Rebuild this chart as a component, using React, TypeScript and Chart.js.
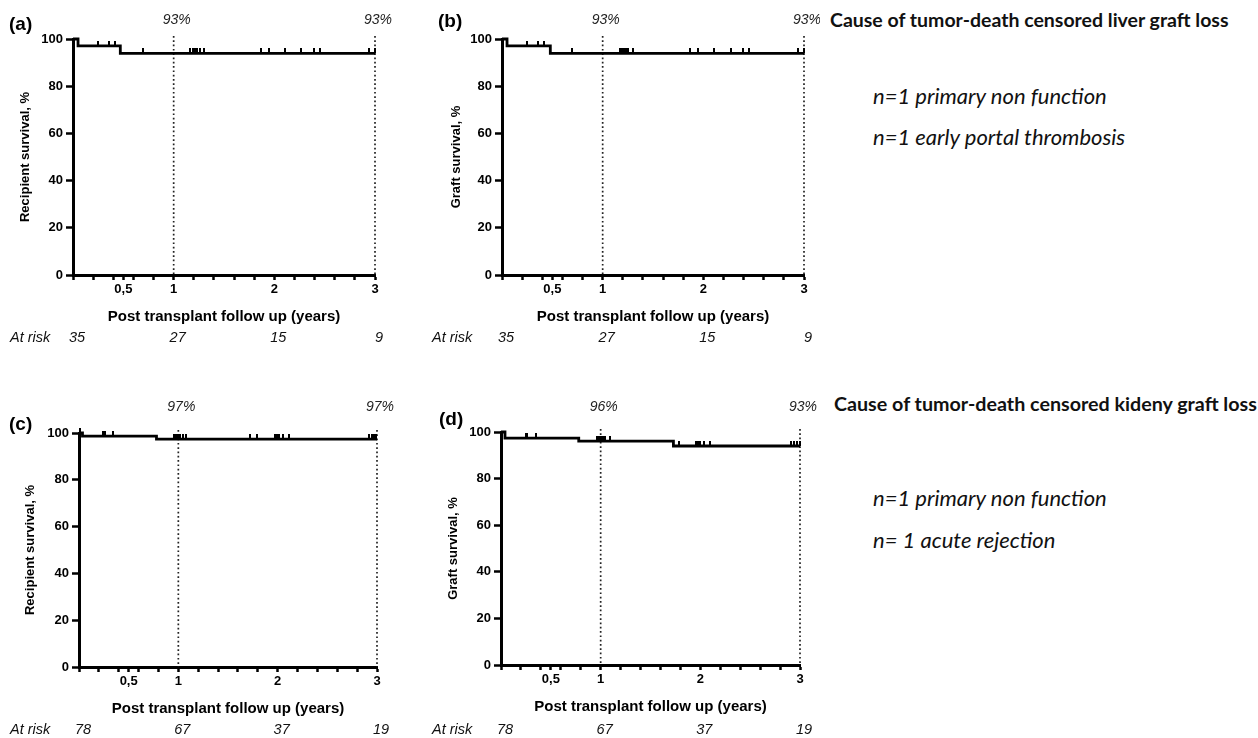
import React, { useEffect, useRef } from 'react';
import { Chart, registerables } from 'chart.js';

Chart.register(...registerables);

// ---------- data ----------
const X_TICKS = [0, 0.2, 0.4, 0.5, 0.6, 0.8, 1, 1.2, 1.4, 1.6, 1.8, 2, 2.2, 2.4, 2.6, 2.8, 3];
const X_TICK_LABELS: Record<string, string> = { '0.5': '0,5', '1': '1', '2': '2', '3': '3' };
const Y_TICKS = [0, 20, 40, 60, 80, 100];
const MARK_TIMES = [1, 3];
const AT_RISK_TIMES = [0, 1, 2, 3];

// (a) liver recipient survival
const liverRecipTimes = [0, 0.05, 0.47, 3];
const liverRecipSurv = [100, 97.1, 93.9, 93.9];
const liverRecipCensor = [0.25, 0.36, 0.42, 0.7, 1.16, 1.19, 1.21, 1.23, 1.26, 1.3, 1.87, 1.95, 2.11, 2.26, 2.39, 2.45, 2.94, 3.0];
const liverRecipPct = ['93%', '93%'];
const liverRecipAtRisk = [35, 27, 15, 9];

// (b) liver graft survival
const liverGraftTimes = [0, 0.05, 0.48, 3];
const liverGraftSurv = [100, 97.1, 93.9, 93.9];
const liverGraftCensor = [0.25, 0.36, 0.42, 0.7, 1.17, 1.19, 1.21, 1.23, 1.25, 1.3, 1.87, 1.95, 2.11, 2.27, 2.39, 2.45, 2.94, 3.0];
const liverGraftPct = ['93%', '93%'];
const liverGraftAtRisk = [35, 27, 15, 9];

// (c) kidney recipient survival
const kidneyRecipTimes = [0, 0.035, 0.78, 3];
const kidneyRecipSurv = [100, 98.7, 97.4, 97.4];
const kidneyRecipCensor = [0.01, 0.24, 0.26, 0.34, 0.96, 0.98, 1.0, 1.02, 1.05, 1.08, 1.72, 1.79, 1.97, 1.99, 2.01, 2.05, 2.11, 2.92, 2.95, 2.97, 2.99];
const kidneyRecipPct = ['97%', '97%'];
const kidneyRecipAtRisk = [78, 67, 37, 19];

// (d) kidney graft survival
const kidneyGraftTimes = [0, 0.04, 0.78, 1.73, 3];
const kidneyGraftSurv = [100, 97.4, 96.1, 94.0, 94.0];
const kidneyGraftCensor = [0.25, 0.26, 0.35, 0.96, 0.98, 1.0, 1.02, 1.04, 1.09, 1.79, 1.96, 1.98, 2.0, 2.04, 2.1, 2.91, 2.94, 2.97, 3.0];
const kidneyGraftPct = ['96%', '93%'];
const kidneyGraftAtRisk = [78, 67, 37, 19];

const FONT = '"Liberation Sans", Arial, Helvetica, sans-serif';
const SIDE_FONT = 'Lato, "Open Sans", sans-serif';

function survAt(times: number[], surv: number[], t: number) {
  let s = surv[0];
  for (let i = 0; i < times.length; i++) {
    if (times[i] <= t) s = surv[i];
  }
  return s;
}

function makeTickImage() {
  const c = document.createElement('canvas');
  c.width = 2;
  c.height = 10;
  const g = c.getContext('2d')!;
  g.fillStyle = '#000';
  g.fillRect(0, 0, 2, 5);
  return c;
}

const kmAnnot = {
  id: 'kmAnnot',
  beforeDatasetsDraw(chart: any) {
    const ctx = chart.ctx;
    const xs = chart.scales.x;
    const area = chart.chartArea;
    ctx.save();
    ctx.strokeStyle = '#222';
    ctx.lineWidth = 1.7;
    ctx.setLineDash([1.7, 2.6]);
    for (const t of MARK_TIMES) {
      const px = xs.getPixelForValue(t);
      ctx.beginPath();
      ctx.moveTo(px, area.top - 3);
      ctx.lineTo(px, area.bottom);
      ctx.stroke();
    }
    ctx.restore();
  },
  afterDraw(chart: any, _args: any, opts: any) {
    const ctx = chart.ctx;
    const xs = chart.scales.x;
    ctx.save();
    ctx.fillStyle = '#000';
    ctx.textBaseline = 'middle';
    ctx.textAlign = 'left';
    ctx.font = `bold 19px ${FONT}`;
    ctx.fillText(opts.label, opts.labelX, opts.labelY);

    ctx.font = `italic 14px ${FONT}`;
    ctx.fillStyle = '#222';
    ctx.textAlign = 'center';
    MARK_TIMES.forEach((t, i) => {
      ctx.fillText(opts.pct[i], xs.getPixelForValue(t) + 3, opts.pctY);
    });

    ctx.fillStyle = '#111';
    ctx.font = `italic 14.5px ${FONT}`;
    ctx.textAlign = 'left';
    ctx.fillText('At risk', opts.atRiskX, opts.atRiskY);
    ctx.textAlign = 'center';
    AT_RISK_TIMES.forEach((t, i) => {
      ctx.fillText(String(opts.atRisk[i]), xs.getPixelForValue(t) + 4, opts.atRiskY);
    });
    ctx.restore();
  },
};

type PanelProps = {
  left: number;
  top: number;
  width: number;
  height: number;
  area: { l: number; t: number; r: number; b: number };
  yTitle: string;
  yTitlePad: number;
  label: string;
  labelX: number;
  labelY: number;
  pctY: number;
  pct: string[];
  times: number[];
  surv: number[];
  censor: number[];
  atRisk: number[];
  atRiskX: number;
  atRiskY: number;
};

const XH = 51;

function Panel(p: PanelProps) {
  const ref = useRef<HTMLCanvasElement | null>(null);
  useEffect(() => {
    if (!ref.current) return;
    const tickImg = makeTickImage();
    const chart = new Chart(ref.current, {
      type: 'line',
      data: {
        datasets: [
          {
            type: 'line',
            data: p.times.map((t, i) => ({ x: t, y: p.surv[i] })),
            stepped: 'before',
            borderColor: '#000',
            borderWidth: 2.8,
            pointRadius: 0,
            fill: false,
            clip: false,
          } as any,
          {
            type: 'scatter',
            data: p.censor.map((t) => ({ x: t, y: survAt(p.times, p.surv, t) })),
            pointStyle: tickImg,
            pointRadius: 5,
            showLine: false,
            clip: false,
          } as any,
        ],
      },
      options: {
        animation: false,
        responsive: false,
        maintainAspectRatio: false,
        events: [],
        layout: {
          padding: {
            left: 0,
            top: p.area.t - p.top,
            right: p.left + p.width - p.area.r,
            bottom: p.top + p.height - p.area.b - XH,
          },
        },
        plugins: {
          legend: { display: false },
          tooltip: { enabled: false },
          kmAnnot: {
            label: p.label,
            labelX: p.labelX,
            labelY: p.labelY,
            pct: p.pct,
            pctY: p.pctY,
            atRisk: p.atRisk,
            atRiskX: p.atRiskX,
            atRiskY: p.atRiskY,
          },
        } as any,
        scales: {
          x: {
            type: 'linear',
            min: 0,
            max: 3,
            afterBuildTicks: (s: any) => {
              s.ticks = X_TICKS.map((v) => ({ value: v }));
            },
            afterFit: (s: any) => {
              s.height = XH;
            },
            ticks: {
              autoSkip: false,
              maxRotation: 0,
              padding: 2,
              color: '#000',
              font: { family: FONT, weight: 'bold', size: 13 },
              callback: (v: any) => X_TICK_LABELS[String(v)] ?? '',
            },
            grid: {
              display: true,
              drawOnChartArea: false,
              drawTicks: true,
              tickLength: 5,
              tickWidth: 2.5,
              tickColor: '#000',
            },
            border: { display: true, color: '#000', width: 3 },
            title: {
              display: true,
              text: 'Post transplant follow up (years)',
              color: '#000',
              font: { family: FONT, weight: 'bold', size: 15 },
              padding: { top: 0, bottom: 0 },
            },
          },
          y: {
            type: 'linear',
            min: 0,
            max: 100,
            afterBuildTicks: (s: any) => {
              s.ticks = Y_TICKS.map((v) => ({ value: v }));
            },
            afterFit: (s: any) => {
              s.width = p.area.l - p.left;
            },
            ticks: {
              padding: 3,
              color: '#000',
              font: { family: FONT, weight: 'bold', size: 13 },
            },
            grid: {
              display: true,
              drawOnChartArea: false,
              drawTicks: true,
              tickLength: 7,
              tickWidth: 2.5,
              tickColor: '#000',
            },
            border: { display: true, color: '#000', width: 3 },
            title: {
              display: true,
              text: p.yTitle,
              color: '#000',
              font: { family: FONT, weight: 'bold', size: 13 },
              padding: { top: p.yTitlePad, bottom: 0 },
            },
          },
        },
      } as any,
      plugins: [kmAnnot as any],
    });
    return () => chart.destroy();
  }, []);
  return (
    <canvas
      ref={ref}
      width={p.width}
      height={p.height}
      style={{ position: 'absolute', left: p.left, top: p.top, width: p.width, height: p.height }}
    />
  );
}

function SideText(props: { left: number; cy: number; text: string; bold?: boolean; italic?: boolean; size: number }) {
  return (
    <div
      style={{
        position: 'absolute',
        left: props.left,
        top: props.cy - 14,
        height: 28,
        lineHeight: '28px',
        fontFamily: SIDE_FONT,
        fontSize: props.size,
        fontWeight: props.bold ? 700 : 400,
        fontStyle: props.italic ? 'italic' : 'normal',
        color: '#111',
        whiteSpace: 'nowrap',
      }}
    >
      {props.text}
    </div>
  );
}

export default function App() {
  return (
    <div
      style={{
        position: 'fixed',
        left: 0,
        top: 0,
        width: 1258,
        height: 738,
        overflow: 'hidden',
        background: '#fff',
      }}
    >
      <Panel
        left={0}
        top={0}
        width={410}
        height={350}
        area={{ l: 73, t: 39, r: 375, b: 275 }}
        yTitle="Recipient survival, %"
        yTitlePad={18}
        label="(a)"
        labelX={9}
        labelY={25}
        pctY={20}
        pct={liverRecipPct}
        times={liverRecipTimes}
        surv={liverRecipSurv}
        censor={liverRecipCensor}
        atRisk={liverRecipAtRisk}
        atRiskX={10}
        atRiskY={338}
      />
      <Panel
        left={420}
        top={0}
        width={400}
        height={350}
        area={{ l: 502, t: 39, r: 804, b: 275 }}
        yTitle="Graft survival, %"
        yTitlePad={29}
        label="(b)"
        labelX={18}
        labelY={22}
        pctY={20}
        pct={liverGraftPct}
        times={liverGraftTimes}
        surv={liverGraftSurv}
        censor={liverGraftCensor}
        atRisk={liverGraftAtRisk}
        atRiskX={12}
        atRiskY={338}
      />
      <Panel
        left={0}
        top={370}
        width={410}
        height={368}
        area={{ l: 79, t: 433, r: 377, b: 667 }}
        yTitle="Recipient survival, %"
        yTitlePad={23}
        label="(c)"
        labelX={9}
        labelY={55}
        pctY={37}
        pct={kidneyRecipPct}
        times={kidneyRecipTimes}
        surv={kidneyRecipSurv}
        censor={kidneyRecipCensor}
        atRisk={kidneyRecipAtRisk}
        atRiskX={10}
        atRiskY={360}
      />
      <Panel
        left={420}
        top={370}
        width={400}
        height={368}
        area={{ l: 501, t: 432, r: 800, b: 665 }}
        yTitle="Graft survival, %"
        yTitlePad={26}
        label="(d)"
        labelX={19}
        labelY={50}
        pctY={37}
        pct={kidneyGraftPct}
        times={kidneyGraftTimes}
        surv={kidneyGraftSurv}
        censor={kidneyGraftCensor}
        atRisk={kidneyGraftAtRisk}
        atRiskX={12}
        atRiskY={360}
      />
      <SideText left={830} cy={20} size={19.5} bold text="Cause of tumor-death censored liver graft loss" />
      <SideText left={873} cy={96} size={22} italic text="n=1 primary non function" />
      <SideText left={873} cy={137} size={22} italic text="n=1 early portal thrombosis" />
      <SideText left={834} cy={404} size={19.7} bold text="Cause of tumor-death censored kideny graft loss" />
      <SideText left={873} cy={498} size={22} italic text="n=1 primary non function" />
      <SideText left={873} cy={540} size={22} italic text="n= 1 acute rejection" />
    </div>
  );
}
